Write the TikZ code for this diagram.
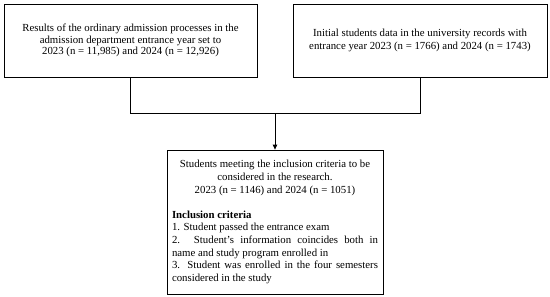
\documentclass[tikz,border=0pt]{standalone}
\usepackage{fontspec}
\setmainfont{Liberation Serif}
\usetikzlibrary{arrows.meta}
\hyphenpenalty=10000
\exhyphenpenalty=10000
\begin{document}
\begin{tikzpicture}[x=1pt,y=-1pt,
  box/.style={draw, line width=0.8pt, inner sep=0pt, align=center, font=\fontsize{10.8}{11.2}\selectfont},
  conn/.style={line width=0.8pt},
  arr/.style={line width=0.8pt, -{Triangle[length=5pt,width=4.5pt]}}]
\useasboundingbox (0,0) rectangle (550,297);
\node[box, minimum width=253pt, minimum height=73pt] (a) at (130.5,40.5)
  {Results of the ordinary admission processes in the\\ admission department entrance year set to\\ 2023 (n = 11,985) and 2024 (n = 12,926)};
\node[box, minimum width=254pt, minimum height=73pt, font=\fontsize{10.8}{12.6}\selectfont] (b) at (420,40.5)
  {Initial students data in the university records with\\ entrance year 2023 (n = 1766) and 2024 (n = 1743)};
\node[box, minimum width=216pt, minimum height=144pt, text width=206pt, align=justify,
  font=\fontsize{10.8}{12.6}\selectfont] (c) at (275,222)
  {{\centering Students meeting the inclusion criteria to be\\ considered in the research.\\ 2023 (n = 1146) and 2024 (n = 1051)\par}
   \vspace{12.6pt}
   \textbf{Inclusion criteria}\par
   1. Student passed the entrance exam\par
   2. Student's information coincides both in\linebreak name and study program enrolled in\par
   3. Student was enrolled in the four semesters considered in the study};
\coordinate (j) at (275,113);
\draw[conn] (a.south) |- (j);
\draw[conn] (b.south) |- (j);
\draw[arr] (j) -- (c.north);
\end{tikzpicture}
\end{document}
